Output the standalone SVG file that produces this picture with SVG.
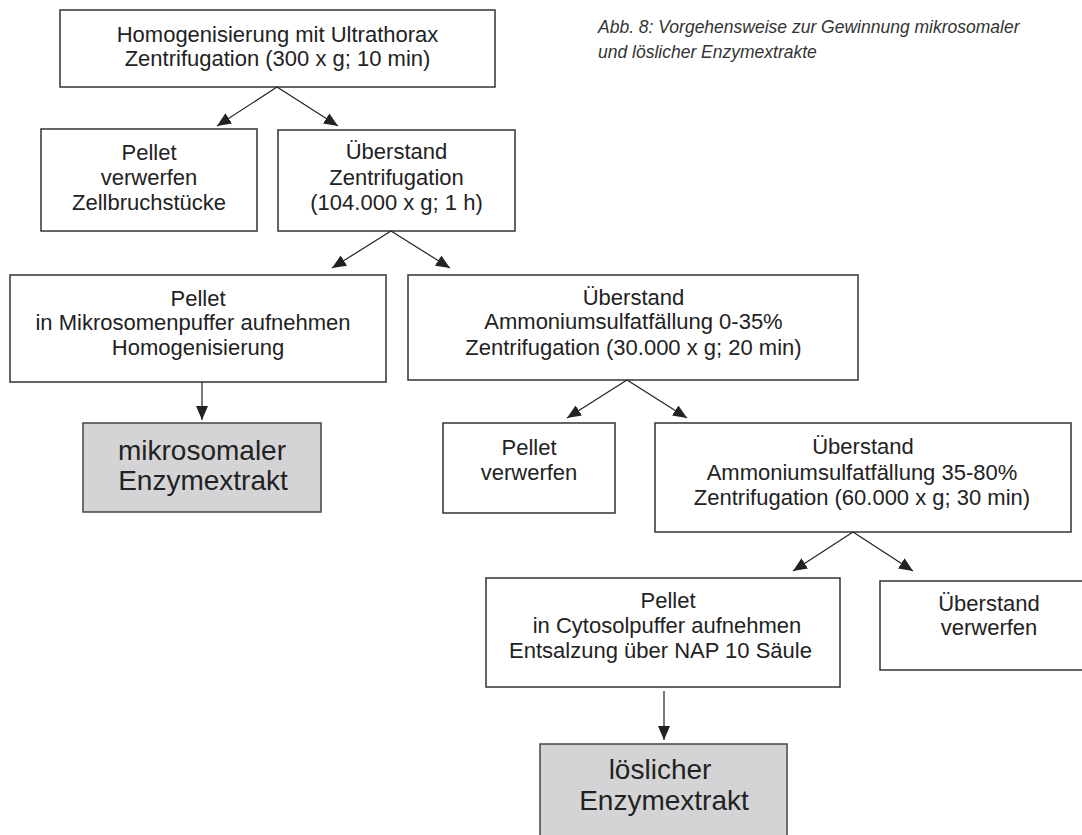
<svg xmlns="http://www.w3.org/2000/svg" width="1082" height="835" viewBox="0 0 1082 835">
<style>
.box{fill:#fff;stroke:#333;stroke-width:1.5}
.gray{fill:#d4d4d6;stroke:#444;stroke-width:1.5}
.t{font-family:"Liberation Sans",Arial,sans-serif;font-size:22px;fill:#222;text-anchor:middle}
.big{font-size:28px}
.cap{font-family:"Liberation Sans",Arial,sans-serif;font-size:17.5px;font-style:italic;fill:#333}
.c{stroke:#222;stroke-width:1.2;fill:none;marker-end:url(#ah)}
</style>
<defs>
<marker id="ah" viewBox="0 0 14 12" refX="14" refY="6" markerWidth="14" markerHeight="12" markerUnits="userSpaceOnUse" orient="auto">
<path d="M0,0 L14,6 L0,12 Z" fill="#222"/>
</marker>
</defs>
<rect width="1082" height="835" fill="#fff"/>
<g id="caption">
<text class="cap" x="598" y="33">Abb. 8: Vorgehensweise zur Gewinnung mikrosomaler</text>
<text class="cap" x="598" y="58">und löslicher Enzymextrakte</text>
</g>
<g id="n1">
<rect class="box" x="60" y="10" width="435" height="77"/>
<text class="t" x="277.5" y="42">Homogenisierung mit Ultrathorax</text>
<text class="t" x="277.5" y="66">Zentrifugation (300 x g; 10 min)</text>
</g>
<g id="n2">
<rect class="box" x="41" y="129" width="216" height="102"/>
<text class="t" x="149" y="160">Pellet</text>
<text class="t" x="149" y="185">verwerfen</text>
<text class="t" x="149" y="210">Zellbruchstücke</text>
</g>
<g id="n3">
<rect class="box" x="278" y="130" width="237" height="101"/>
<text class="t" x="396.5" y="159">Überstand</text>
<text class="t" x="396.5" y="185">Zentrifugation</text>
<text class="t" x="396.5" y="210">(104.000 x g; 1 h)</text>
</g>
<g id="n4">
<rect class="box" x="10" y="275" width="376" height="107"/>
<text class="t" x="198" y="306">Pellet</text>
<text class="t" x="193" y="330">in Mikrosomenpuffer aufnehmen</text>
<text class="t" x="198" y="355">Homogenisierung</text>
</g>
<g id="n5">
<rect class="box" x="408" y="275" width="450" height="105"/>
<text class="t" x="633.5" y="305">Überstand</text>
<text class="t" x="633.5" y="329">Ammoniumsulfatfällung 0-35%</text>
<text class="t" x="633.5" y="355">Zentrifugation (30.000 x g; 20 min)</text>
</g>
<g id="n6">
<rect class="gray" x="83" y="423" width="238" height="89"/>
<text class="t big" x="202" y="460">mikrosomaler</text>
<text class="t big" x="203" y="490">Enzymextrakt</text>
</g>
<g id="n7">
<rect class="box" x="443" y="423" width="172" height="90"/>
<text class="t" x="529" y="455">Pellet</text>
<text class="t" x="529" y="480">verwerfen</text>
</g>
<g id="n8">
<rect class="box" x="655" y="423" width="416" height="109"/>
<text class="t" x="863" y="454">Überstand</text>
<text class="t" x="862" y="480">Ammoniumsulfatfällung 35-80%</text>
<text class="t" x="862" y="505">Zentrifugation (60.000 x g; 30 min)</text>
</g>
<g id="n9">
<rect class="box" x="486" y="578" width="354" height="109"/>
<text class="t" x="668" y="608">Pellet</text>
<text class="t" x="667" y="633">in Cytosolpuffer aufnehmen</text>
<text class="t" x="660.5" y="658">Entsalzung über NAP 10 Säule</text>
</g>
<g id="n10">
<rect class="box" x="880" y="581" width="220" height="89"/>
<text class="t" x="989" y="611">Überstand</text>
<text class="t" x="989" y="635">verwerfen</text>
</g>
<g id="n11">
<rect class="gray" x="540" y="744" width="247" height="100"/>
<text class="t big" x="660" y="779">löslicher</text>
<text class="t big" x="664" y="810">Enzymextrakt</text>
</g>
<g id="connectors">
<line class="c" x1="277" y1="87" x2="217" y2="126"/>
<line class="c" x1="277" y1="87" x2="338" y2="126"/>
<line class="c" x1="391" y1="231" x2="332" y2="268"/>
<line class="c" x1="391" y1="231" x2="450" y2="268"/>
<line class="c" x1="202" y1="382" x2="202" y2="420"/>
<line class="c" x1="627" y1="380" x2="567" y2="418"/>
<line class="c" x1="627" y1="380" x2="687" y2="418"/>
<line class="c" x1="853" y1="532" x2="793" y2="571"/>
<line class="c" x1="853" y1="532" x2="913" y2="571"/>
<line class="c" x1="664" y1="691" x2="664" y2="740"/>
</g>
</svg>
